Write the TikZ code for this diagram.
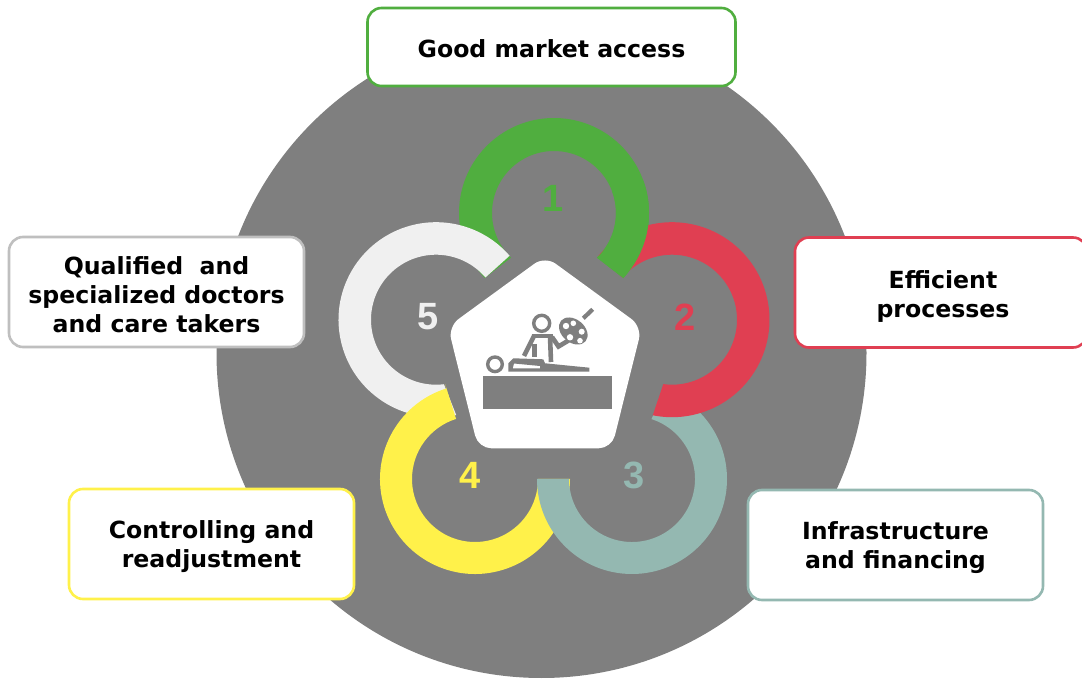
\documentclass[tikz,border=0pt]{standalone}
\usepackage{fontspec}
\setmainfont{DejaVu Sans}
\setsansfont{Liberation Sans}
\definecolor{bggray}{HTML}{7F7F7F}
\definecolor{cgreen}{HTML}{50AE3F}
\definecolor{cred}{HTML}{E03F52}
\definecolor{cteal}{HTML}{94B8B1}
\definecolor{cyell}{HTML}{FFF14A}
\definecolor{cwhite}{HTML}{F0F0F0}
\definecolor{cwbord}{HTML}{BFBFBF}
\tikzset{
  x=1pt,y=1pt,
  numlabel/.style={font=\fontsize{38}{38}\selectfont\sffamily\bfseries,inner sep=0pt},
  cardbox/.style={draw,fill=white,line width=2.6pt,rounded corners=14pt,inner sep=0pt},
  cardtext/.style={align=center,font=\fontsize{23.6}{29}\selectfont\bfseries,inner sep=0pt,text=black},
  iconring/.style={draw=bggray,line width=3.4pt},
  iconlimb/.style={draw=bggray,line width=4.6pt},
}
% #1 colour, #2 centre, #3 outer radius, #4 inner radius, #5 #6 outer from/to, #7 #8 inner from/to
\newcommand{\ringpiece}[8]{%
  \fill[#1] ([shift={(#2)}]#5:#3pt) arc (#5:#6:#3pt)
    -- ([shift={(#2)}]#8:#4pt) arc (#8:#7:#4pt) -- cycle;}
\begin{document}
\begin{tikzpicture}
\useasboundingbox (0,0) rectangle (1082,678);
\begin{scope}
\clip (0,0) rectangle (1082,678);
\node[circle,fill=bggray,minimum size=650pt,inner sep=0pt] (disc) at (541.5,325) {};
\ringpiece{cgreen}{554,465}{95}{62}{223.2}{-43.2}{226.1}{-46.1}
\ringpiece{cwhite}{436,358.3}{97.5}{65}{282}{41}{277}{40.5}
\ringpiece{cyell}{475,199}{95}{63}{107.5}{360}{107.5}{360}
\fill[cyell] (446.4,289.6) -- (445,294) -- (455,260) -- cycle;
\ringpiece{cteal}{632,199}{95}{63}{180}{430}{180}{432}
\ringpiece{cred}{672,358.3}{97.5}{65}{139}{-101.4}{139.5}{-97.7}
\ringpiece{cgreen}{554,465}{95}{62}{20}{-43.2}{20}{-46.1}
\end{scope}
\node[numlabel,text=cgreen] (n1) at (553,480) {1};
\node[numlabel,text=cred] (n2) at (685,361) {2};
\node[numlabel,text=cteal] (n3) at (634,203) {3};
\node[numlabel,text=cyell] (n4) at (470,203) {4};
\node[numlabel,text=cwhite] (n5) at (428,361) {5};
% pentagon
\fill[white,rounded corners=13pt] (545,422) -- (642,351.3) -- (611.7,229.7) -- (478.3,229.7) -- (448,351.3) -- cycle;
% icon
\fill[bggray] (483,269) rectangle (612,302);
\draw[iconring] (541.7,354.7) circle (8pt);
\draw[iconring] (495,313.7) circle (7.3pt);
\fill[bggray,even odd rule] (508.3,306.3) -- (589.3,306.3) -- (589.3,310.3) -- (545,314.7) -- (543.3,318.7) -- (513.3,319.7) -- (508.3,314.7) -- cycle
  (512.7,309.7) -- (540,309.7) -- (540,312) -- (514,314.5) -- cycle;
\draw[iconlimb] (531.5,342) -- (553,342);
\draw[iconlimb] (534,342) -- (524,322);
\draw[iconlimb] (534.5,334) -- (534.5,321);
\draw[iconlimb] (550,342) -- (551,316);
\draw[iconlimb] (552,341) -- (558.5,331.5) -- (571,339);
\draw[bggray,line width=4.2pt] (583.3,359.7) -- (592.7,368.7);
\fill[bggray,rotate around={-40:(573.3,347)}] (573.3,347) ellipse (16pt and 11.5pt);
\fill[white] (566,352) circle (3.2pt) (573.3,354.7) circle (2.8pt) (581.7,346.3) circle (3pt) (580,337.3) circle (2.8pt) (570,340.7) circle (3.2pt);
% cards
\node[cardbox,draw=cgreen,minimum width=368pt,minimum height=78pt] (c1) at (551.5,631) {};
\node[cardtext] (t1) at (551.5,629) {Good market access};
\node[cardbox,draw=cred,minimum width=292pt,minimum height=110pt] (c2) at (941,385.5) {};
\node[cardtext] (t2) at (943,382) {Efficient\\processes};
\node[cardbox,draw=cteal,minimum width=295pt,minimum height=110pt] (c3) at (895.5,133) {};
\node[cardtext] (t3) at (895.5,130) {Infrastructure\\and financing};
\node[cardbox,draw=cyell,minimum width=285pt,minimum height=110pt] (c4) at (211.5,134) {};
\node[cardtext] (t4) at (211.5,131) {Controlling and\\readjustment};
\node[cardbox,draw=cwbord,minimum width=295pt,minimum height=110pt] (c5) at (156.5,386) {};
\node[cardtext] (t5) at (156.5,383.5) {Qualified\ \ and\\specialized doctors\\and care takers};
\end{tikzpicture}
\end{document}
